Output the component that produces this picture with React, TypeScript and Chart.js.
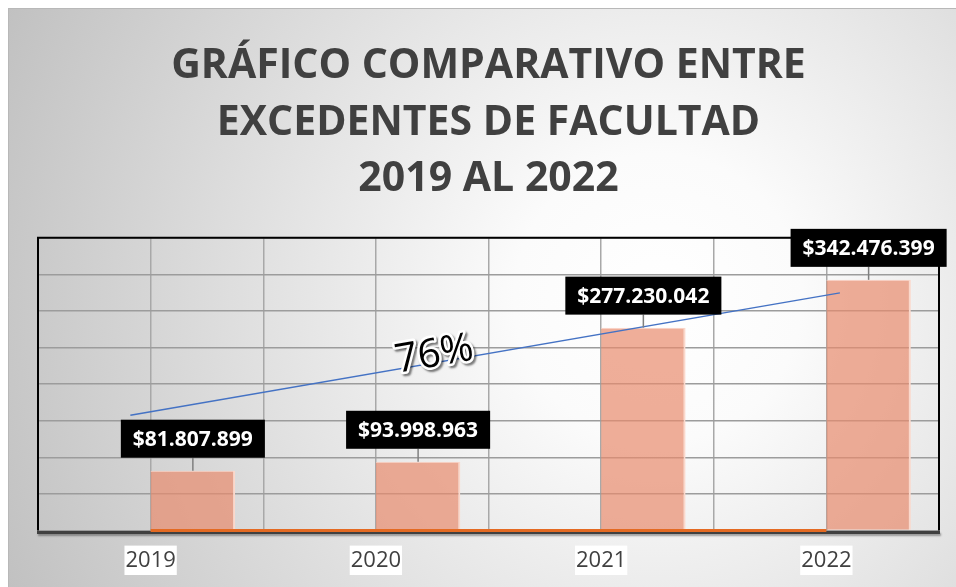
import React, { useEffect, useRef } from 'react';
import { Chart, registerables } from 'chart.js';

Chart.register(...registerables);

// ---- data ----
const titleLines = ['GRÁFICO COMPARATIVO ENTRE', 'EXCEDENTES DE FACULTAD', '2019 AL 2022'];
const years = ['2019', '2020', '2021', '2022'];
const excedentes = [81807899, 93998963, 277230042, 342476399];
const serieBase = [0, 0, 0, 0];
const trendX = [-0.09, 3.06];
const trendY = [157500000, 324700000];
const growthLabel = '76%';
const growthX = 1.26;
const growthY = 240000000;
const yMin = 0;
const yMax = 400000000;
const yStep = 50000000;
const xGridMin = -0.5;
const xGridMax = 3.5;
const xGridStep = 0.5;

const FONT = "'Open Sans', 'Noto Sans', sans-serif";

function money(v: number): string {
  return '$' + Math.round(v).toString().replace(/\B(?=(\d{3})+(?!\d))/g, '.');
}

const backgroundPlugin = {
  id: 'bgPanel',
  beforeDraw(chart: any) {
    const { ctx, width, height } = chart;
    ctx.save();
    const g = ctx.createRadialGradient(650, 290, 0, 650, 290, 720);
    g.addColorStop(0, '#ffffff');
    g.addColorStop(0.2, '#fbfbfb');
    g.addColorStop(1, '#c0c0c0');
    ctx.fillStyle = g;
    ctx.fillRect(0, 0, width, height);
    ctx.strokeStyle = '#b8b8b8';
    ctx.lineWidth = 1;
    ctx.beginPath();
    ctx.moveTo(0, 0.5);
    ctx.lineTo(width, 0.5);
    ctx.moveTo(0.5, 0);
    ctx.lineTo(0.5, height);
    ctx.stroke();
    ctx.restore();
  },
};

const framePlugin = {
  id: 'plotFrame',
  beforeDatasetsDraw(chart: any) {
    const { ctx } = chart;
    const { left, right, top, bottom } = chart.chartArea;
    ctx.save();
    ctx.strokeStyle = '#000000';
    ctx.lineWidth = 2;
    ctx.beginPath();
    ctx.moveTo(left, bottom);
    ctx.lineTo(left, top);
    ctx.lineTo(right, top);
    ctx.lineTo(right, bottom);
    ctx.stroke();
    ctx.shadowColor = 'rgba(0,0,0,0.35)';
    ctx.shadowOffsetY = 2;
    ctx.shadowOffsetX = 1;
    ctx.shadowBlur = 2;
    ctx.strokeStyle = '#404040';
    ctx.lineWidth = 3;
    ctx.beginPath();
    ctx.moveTo(left - 1, bottom + 2);
    ctx.lineTo(right + 1, bottom + 2);
    ctx.stroke();
    ctx.restore();
  },
};

const labelsPlugin = {
  id: 'valueLabels',
  afterDatasetsDraw(chart: any) {
    const { ctx } = chart;
    const meta = chart.getDatasetMeta(1);
    ctx.save();
    ctx.font = `bold 21px ${FONT}`;
    ctx.textAlign = 'center';
    ctx.textBaseline = 'middle';
    meta.data.forEach((bar: any, i: number) => {
      const text = money(excedentes[i]);
      const tw = ctx.measureText(text).width;
      const bw = tw + 24;
      const bh = 38;
      const gap = 13;
      const cx = bar.x;
      const boxBottom = bar.y - gap;
      ctx.strokeStyle = '#7f7f7f';
      ctx.lineWidth = 1.5;
      ctx.beginPath();
      ctx.moveTo(cx, bar.y);
      ctx.lineTo(cx, boxBottom);
      ctx.stroke();
      ctx.fillStyle = '#000000';
      ctx.fillRect(cx - bw / 2, boxBottom - bh, bw, bh);
      ctx.fillStyle = '#ffffff';
      ctx.fillText(text, cx, boxBottom - bh / 2 + 1);
    });

    // growth label along the trend line
    const x = chart.scales.x;
    const y = chart.scales.y;
    const ax = x.getPixelForValue(trendX[0]);
    const ay = y.getPixelForValue(trendY[0]);
    const bx = x.getPixelForValue(trendX[1]);
    const by = y.getPixelForValue(trendY[1]);
    const ang = Math.atan2(by - ay, bx - ax);
    const px = x.getPixelForValue(growthX);
    const py = y.getPixelForValue(growthY);
    ctx.translate(px, py);
    ctx.rotate(ang);
    ctx.font = `40px ${FONT}`;
    ctx.shadowColor = 'rgba(0,0,0,0.5)';
    ctx.shadowOffsetX = 2;
    ctx.shadowOffsetY = 2;
    ctx.shadowBlur = 2;
    ctx.lineJoin = 'round';
    ctx.lineWidth = 5;
    ctx.strokeStyle = '#ffffff';
    ctx.strokeText(growthLabel, 0, 0);
    ctx.shadowColor = 'transparent';
    ctx.fillStyle = '#000000';
    ctx.fillText(growthLabel, 0, 0);
    ctx.restore();
  },
};

export default function App() {
  const canvasRef = useRef<HTMLCanvasElement | null>(null);

  useEffect(() => {
    const canvas = canvasRef.current;
    if (!canvas) return;
    const chart = new Chart(canvas, {
      type: 'bar',
      data: {
        labels: years,
        datasets: [
          {
            type: 'bar',
            label: 'Serie 1',
            xAxisID: 'x',
            yAxisID: 'y',
            data: serieBase,
            backgroundColor: 'rgba(0,0,0,0)',
            borderWidth: 0,
            categoryPercentage: 0.75,
            barPercentage: 1,
            order: 2,
          } as any,
          {
            type: 'bar',
            label: 'Excedentes',
            xAxisID: 'x',
            yAxisID: 'y',
            data: excedentes,
            backgroundColor: 'rgba(232,140,110,0.7)',
            borderColor: '#fbd8cb',
            borderWidth: { top: 1, right: 2, left: 0, bottom: 0 },
            borderSkipped: false,
            categoryPercentage: 0.75,
            barPercentage: 1,
            order: 2,
          } as any,
          {
            type: 'line',
            label: 'Base',
            xAxisID: 'x',
            yAxisID: 'y',
            data: serieBase,
            borderColor: '#e46a22',
            borderWidth: 3,
            pointRadius: 0,
            clip: 4,
            order: 1,
          } as any,
          {
            type: 'line',
            label: 'Tendencia',
            xAxisID: 'x',
            yAxisID: 'y',
            parsing: false,
            data: trendX.map((xv, i) => ({ x: xv, y: trendY[i] })),
            borderColor: '#4472c4',
            borderWidth: 1.5,
            pointRadius: 0,
            order: 0,
          } as any,
        ],
      },
      options: {
        animation: false,
        responsive: false,
        maintainAspectRatio: false,
        layout: { padding: { left: 30, right: 17, top: 0, bottom: -4 } },
        plugins: {
          legend: { display: false },
          tooltip: { enabled: false },
          title: {
            display: true,
            text: titleLines,
            color: '#404040',
            font: { family: FONT, size: 41, weight: 'bold', lineHeight: 1.38 },
            padding: { top: 30, bottom: 30 },
          },
        },
        scales: {
          x: {
            type: 'category',
            position: 'bottom',
            offset: true,
            grid: { display: false, drawTicks: false },
            border: { display: false },
            ticks: {
              color: '#404040',
              font: { family: FONT, size: 22 },
              padding: 17,
              showLabelBackdrop: true,
              backdropColor: '#ffffff',
              backdropPadding: { top: 2, bottom: 1, left: 1, right: 1 },
            } as any,
          },
          x2: {
            type: 'linear',
            position: 'bottom',
            offset: false,
            min: xGridMin,
            max: xGridMax,
            grid: { color: '#a8a8a8', lineWidth: 1.5, drawTicks: false, offset: false },
            border: { display: false },
            ticks: { display: false, stepSize: xGridStep },
          },
          y: {
            min: yMin,
            max: yMax,
            grid: { color: '#9c9c9c', lineWidth: 1.5, drawTicks: false },
            border: { display: false },
            ticks: { display: false, stepSize: yStep },
          },
        },
      } as any,
      plugins: [backgroundPlugin, framePlugin, labelsPlugin],
    });
    return () => chart.destroy();
  }, []);

  return (
    <div style={{ position: 'fixed', left: 8, top: 8, width: 948, height: 579 }}>
      <canvas ref={canvasRef} width={948} height={579} />
    </div>
  );
}
